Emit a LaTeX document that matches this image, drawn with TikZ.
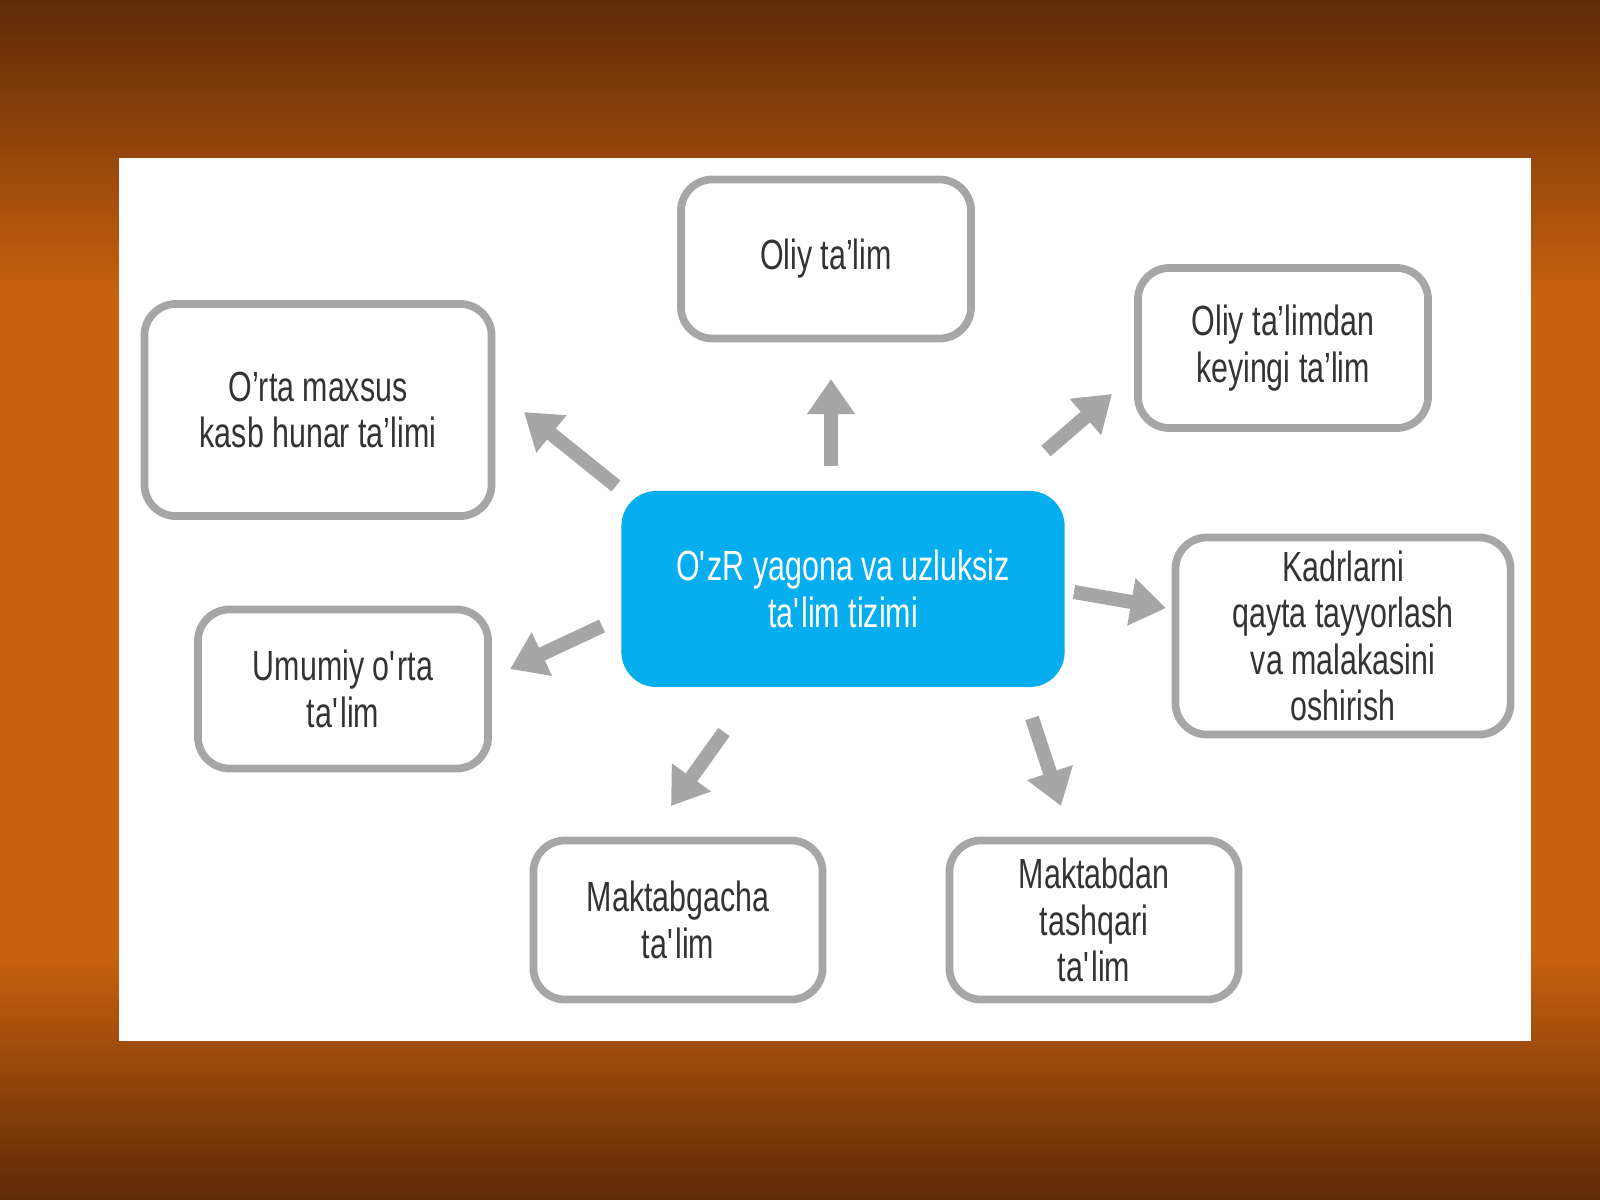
\documentclass[tikz,border=0pt]{standalone}
\usepackage{fontspec}
\setmainfont{Liberation Sans}[FakeStretch=0.72]
\usetikzlibrary{arrows.meta}
\newcommand{\q}{\textquotesingle}
\definecolor{bgdark}{HTML}{5E2A06}
\definecolor{bgmid}{HTML}{C9620F}
\definecolor{boxline}{HTML}{A6A6A6}
\definecolor{centre}{HTML}{06AEEF}
\definecolor{txt}{HTML}{333333}
\tikzset{
  box/.style={draw=boxline, line width=2.2pt, rounded corners=9pt, fill=white,
    align=center, text=txt, font=\fontsize{12}{13.2}\selectfont, inner sep=0pt},
  hub/.style={fill=centre, rounded corners=10pt, align=center, text=white,
    font=\fontsize{12}{13.5}\selectfont, minimum width=4.43cm, minimum height=1.96cm},
  arr/.style={draw=boxline, line width=4pt, -{Triangle[length=10pt,width=13pt]}}
}
\begin{document}
\begin{tikzpicture}[x=0.01cm,y=-0.01cm]
  \useasboundingbox (0,0) rectangle (1600,1200);
  % background
  \shade[top color=bgdark, bottom color=bgmid] (0,0) rectangle (1600,300);
  \fill[bgmid] (0,300) rectangle (1600,950);
  \shade[top color=bgmid, bottom color=bgdark] (0,950) rectangle (1600,1200);
  \fill[white] (119,158) rectangle (1531,1041);
  % nodes
  \node[hub] (c) at (843,589) {O\q zR yagona va uzluksiz\\ta\q lim tizimi};
  \node[box, minimum width=2.9cm, minimum height=1.59cm] (oliy) at (826,259) {Oliy ta’lim};
  \node[box, minimum width=2.9cm, minimum height=1.6cm] (keyin) at (1283,348) {Oliy ta’limdan\\keyingi ta’lim};
  \node[box, minimum width=3.47cm, minimum height=2.12cm] (orta) at (318,410) {O’rta maxsus\\kasb hunar ta’limi};
  \node[box, minimum width=3.35cm, minimum height=1.97cm] (kadr) at (1343,636) {Kadrlarni\\qayta tayyorlash\\va malakasini\\oshirish};
  \node[box, minimum width=2.9cm, minimum height=1.59cm] (umum) at (343,689) {Umumiy o\q rta\\ta\q lim};
  \node[box, minimum width=2.89cm, minimum height=1.59cm] (mgacha) at (678,920) {Maktabgacha\\ta\q lim};
  \node[box, minimum width=2.89cm, minimum height=1.59cm] (mdan) at (1094,920) {Maktabdan\\tashqari\\ta\q lim};
  % arrow ends
  \coordinate (a1) at (831,466); \coordinate (b1) at (831,379);
  \coordinate (a2) at (1046,451); \coordinate (b2) at (1112,394);
  \coordinate (a3) at (616,486); \coordinate (b3) at (524,412);
  \coordinate (a4) at (1074,592); \coordinate (b4) at (1166,608);
  \coordinate (a5) at (602,626); \coordinate (b5) at (510,669);
  \coordinate (a6) at (724,732); \coordinate (b6) at (671,806);
  \coordinate (a7) at (1032,718); \coordinate (b7) at (1061,806);
  \foreach \i in {1,...,7}
    \draw[arr] (a\i) -- (b\i);
\end{tikzpicture}
\end{document}
